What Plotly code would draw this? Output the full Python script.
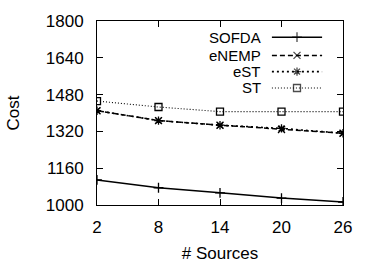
import plotly.graph_objects as go

sources = [2, 8, 14, 20, 26]
series_names = ["SOFDA", "eNEMP", "eST", "ST"]
sofda = [1109, 1075, 1053, 1030, 1013]
enemp = [1410, 1367, 1347, 1328, 1312]
est = [1410, 1367, 1347, 1333, 1312]
st = [1452, 1426, 1406, 1406, 1406]
y_ticks = [1000, 1160, 1320, 1480, 1640, 1800]

values = [sofda, enemp, est, st]
dashes = ["solid", "5px,3px", "2px,3px", "1px,2px"]
widths = [1.5, 1.5, 1.6, 1.1]
symbols = ["cross-thin", "x-thin", "asterisk", "square-open"]
msizes = [7, 7, 7, 7]

FONT = "Liberation Sans, Arial, sans-serif"
fig = go.Figure()
for name, v, d, w, s, ms in zip(series_names, values, dashes, widths, symbols, msizes):
    fig.add_trace(go.Scatter(
        x=sources, y=v, mode="lines+markers", name=name, showlegend=False,
        line=dict(color="black", dash=d, width=w),
        marker=dict(symbol=s, size=ms, color="black", line=dict(color="black", width=1.3)),
    ))

# custom legend (text right, sample on right) drawn on an overlay axis in [0,1]
rows = [0.912, 0.813, 0.725, 0.636]
for name, d, w, s, ms, r in zip(series_names, dashes, widths, symbols, msizes, rows):
    fig.add_trace(go.Scatter(
        x=[0.711, 0.813, 0.915], y=[r, r, r], xaxis="x2", yaxis="y2",
        mode="lines+markers", showlegend=False, hoverinfo="skip",
        line=dict(color="black", dash=d, width=w),
        marker=dict(symbol=s, size=[0, ms, 0], color="black", line=dict(color="black", width=1.3)),
    ))
    fig.add_annotation(x=0.675, y=r, xref="paper", yref="paper", text=name,
                       showarrow=False, xanchor="right", yanchor="middle",
                       font=dict(family=FONT, size=15, color="black"))

axis_common = dict(showgrid=False, zeroline=False, showline=True, linecolor="black",
                   linewidth=1, mirror="ticks", ticks="inside", ticklen=6, automargin=False,
                   tickcolor="black", tickfont=dict(family=FONT, size=17, color="black"))
fig.update_layout(
    width=375, height=263, margin=dict(l=97, r=32, t=21, b=58),
    paper_bgcolor="white", plot_bgcolor="white",
    xaxis=dict(range=[2, 26], tickvals=sources, ticktext=[str(s) for s in sources],
               ticklabelstandoff=7,
               title=dict(text="# Sources", font=dict(family=FONT, size=17, color="black"), standoff=10),
               **axis_common),
    yaxis=dict(range=[1000, 1800], tickvals=y_ticks, ticktext=[str(t) for t in y_ticks],
               ticklabelstandoff=9,
               title=dict(text="Cost", font=dict(family=FONT, size=17, color="black"), standoff=21),
               **axis_common),
    xaxis2=dict(range=[0, 1], overlaying="x", visible=False, fixedrange=True),
    yaxis2=dict(range=[0, 1], overlaying="y", visible=False, fixedrange=True),
    showlegend=False,
)
fig.write_html("out.html")
